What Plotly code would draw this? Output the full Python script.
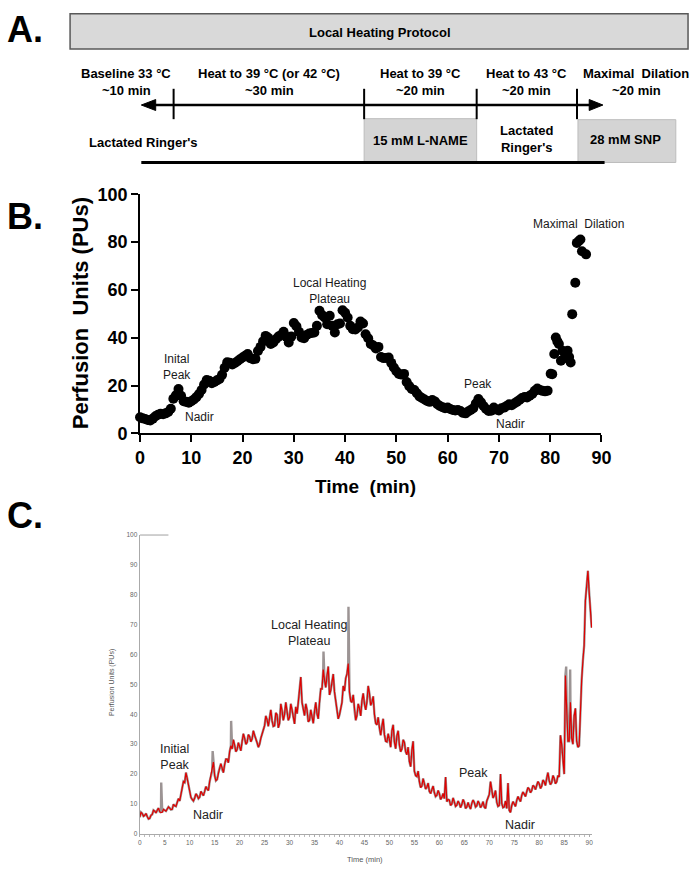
import plotly.graph_objects as go

W, H = 700, 875
FONT = "Liberation Sans, Arial, sans-serif"
# measured vertical mapping of the photographed page (picture_y = VS * page_y + VO)
VS, VO = 0.981, 7.9

# ---------------- Panel A: protocol texts ----------------
protocol_title = "Local Heating Protocol"
stage_names = ["Baseline 33 °C", "Heat to 39 °C (or 42 °C)", "Heat to 39 °C",
               "Heat to 43 °C", "Maximal\u00a0\u00a0Dilation"]
stage_durations = ["~10 min", "~30 min", "~20 min", "~20 min", "~20 min"]
solution_labels = ["Lactated Ringer's", "15 mM L-NAME", "Lactated<br>Ringer's", "28 mM SNP"]
panel_letters = ["A.", "B.", "C."]

# ---------------- Panel B: averaged perfusion (dots) ----------------
b_step = 0.5
b_pu_regular = [
    6.8, 6.3, 6.0, 5.6, 5.4, 6.2, 7.2, 7.8, 8.2, 8.0,
    8.4, 9.0, 10.3, 14.5, 16.0, 18.6, 15.8, 13.5, 13.2, 12.8,
    13.5, 14.2, 15.2, 16.5, 18.2, 20.5, 22.3, 22.0, 21.0, 21.5,
    22.2, 22.8, 24.5, 27.5, 29.8, 29.6, 28.8, 29.5, 30.2, 31.0,
    31.8, 32.5, 33.2, 31.5, 31.0, 31.2, 34.5, 36.2, 38.5, 40.8,
    40.0, 37.4, 38.0, 39.4, 40.5, 41.2, 42.5, 40.5, 38.0, 40.5,
    46.2, 44.8, 42.5, 40.1, 39.8, 41.2, 41.8, 42.0, 42.2, 45.0,
    51.3, 49.5, 48.5, 45.7, 49.2, 45.0, 42.2, 45.7, 46.0, 51.5,
    50.5, 48.5, 45.0, 43.6, 43.5, 44.3, 46.8, 46.0, 41.5, 39.8,
    37.4, 36.8, 35.5, 36.2, 32.0, 31.5, 31.6, 31.8, 29.5, 27.6,
    26.0, 24.9, 24.6, 24.9, 21.5, 19.8, 18.6, 18.2, 16.8, 15.5,
    14.8, 14.2, 13.6, 13.2, 14.0, 13.4, 12.2, 11.5, 11.0, 10.5,
    10.8, 10.2, 9.8, 9.6, 9.8, 9.4, 8.6, 8.4, 9.2, 9.8,
    10.5, 12.5, 14.4, 13.0, 11.5, 10.2, 9.4, 9.5, 10.8, 10.0,
    9.6, 10.5, 10.8, 11.5, 12.2, 11.8, 12.5, 13.2, 14.0, 14.8,
    15.2, 15.0, 15.8, 16.5, 17.8, 18.8, 18.2, 17.8, 17.6, 17.9,
]
b_time_tail = [80.1, 80.4, 80.8, 81.1, 81.4, 81.7, 82.1, 82.4, 82.8, 83.4,
               83.7, 84.0, 84.3, 84.9, 85.2, 85.6, 85.9, 86.2, 87.0]
b_pu_tail = [25.0, 24.8, 33.2, 40.1, 38.5, 37.4, 30.4, 34.6, 31.5, 34.6,
             32.0, 29.7, 49.9, 63.0, 79.7, 80.5, 81.1, 76.2, 74.9]
b_time = [i * b_step for i in range(len(b_pu_regular))] + b_time_tail
b_pu = b_pu_regular + b_pu_tail
b_xticks = [0, 10, 20, 30, 40, 50, 60, 70, 80, 90]
b_yticks = [0, 20, 40, 60, 80, 100]
b_notes = ["Inital<br>Peak", "Nadir", "Local Heating<br>Plateau", "Peak", "Nadir",
           "Maximal\u00a0\u00a0Dilation"]
b_note_x = [7.25, 11.6, 37.05, 65.85, 72.2, 85.6]
b_note_y = [27.6, 6.8, 59.6, 20.7, 3.75, 87.6]

# ---------------- Panel C: raw laser-Doppler trace ----------------
c_step = 0.5
c_red = [
    5.6, 6.8, 6.2, 5.8, 5.2, 6.5, 7.6, 7.9, 7.4, 7.2,
    7.9, 8.3, 8.6, 8.2, 9.4, 10.5, 11.0, 15.5, 17.2, 18.6,
    14.2, 11.5, 12.0, 12.8, 12.3, 13.5, 14.2, 15.0, 17.5, 21.0,
    19.5, 18.2, 22.0, 21.5, 23.2, 25.0, 27.5, 28.4, 29.8, 28.2,
    29.2, 30.9, 32.0, 30.6, 32.6, 31.8, 33.0, 30.5, 30.0, 33.2,
    36.2, 38.2, 39.6, 37.8, 36.2, 39.9, 37.0, 41.2, 40.0, 41.0,
    39.0, 41.5, 36.8, 40.2, 48.5, 44.0, 39.6, 41.5, 38.0, 39.6,
    41.0, 40.2, 44.0, 48.5, 51.5, 53.0, 46.5, 50.8, 47.5, 42.2,
    39.8, 44.0, 47.8, 53.5, 47.5, 44.0, 41.5, 39.6, 42.0, 44.5,
    43.5, 44.2, 47.0, 44.0, 40.0, 36.5, 35.5, 36.0, 33.2, 30.8,
    31.5, 34.5, 30.8, 32.8, 29.8, 28.4, 30.6, 26.5, 24.2, 28.0,
    21.0, 19.2, 17.5, 16.0, 16.8, 15.6, 14.2, 14.8, 13.8, 12.9,
    13.5, 12.2, 11.8, 10.8, 11.3, 10.0, 10.7, 9.6, 10.2, 9.8,
    10.6, 9.0, 9.2, 10.2, 10.5, 9.4, 10.2, 9.5, 9.0, 11.0,
    13.2, 14.2, 12.8, 10.6, 9.5, 10.2, 9.0, 8.5, 7.9, 9.5,
    10.0, 11.2, 11.6, 12.9, 13.3, 14.1, 15.0, 14.5, 15.8, 16.2,
    16.8, 16.0, 17.4, 18.6, 17.8, 17.2, 18.6, 17.4, 19.0, 30.0,
    20.0, 44.0, 31.0, 32.0, 39.5, 31.0, 29.5, 51.5, 63.0, 83.0,
    81.0, 69.0,
]
c_raw = [
    7.2, 5.9, 6.8, 5.0, 6.2, 7.9, 7.0, 8.6, 7.1, 8.2,
    7.6, 9.0, 8.1, 9.9, 9.2, 11.8, 13.5, 17.5, 20.5, 16.0,
    12.2, 11.0, 13.4, 11.8, 14.2, 12.8, 15.8, 14.5, 19.5, 24.0,
    17.8, 20.5, 23.5, 20.5, 25.0, 23.8, 29.5, 31.5, 27.5, 30.5,
    27.8, 33.5, 30.0, 33.2, 30.8, 34.5, 31.2, 29.0, 32.0, 35.0,
    39.5, 36.0, 41.5, 36.0, 40.5, 35.5, 43.5, 38.0, 44.0, 38.0,
    43.5, 38.5, 42.5, 44.0, 52.5, 41.0, 43.5, 37.5, 41.5, 37.0,
    44.0, 38.5, 48.5, 55.0, 49.0, 56.0, 48.0, 53.5, 44.0, 38.5,
    42.5, 49.5, 52.0, 57.0, 44.5, 46.5, 38.0, 43.5, 39.5, 47.0,
    41.5, 49.5, 43.0, 46.0, 37.0, 39.0, 33.0, 38.5, 31.0, 33.5,
    29.0, 36.5, 28.5, 34.5, 27.5, 31.5, 27.5, 29.0, 22.5, 31.0,
    19.5, 21.0, 15.5, 18.5, 15.0, 17.0, 13.5, 16.0, 12.5, 14.5,
    11.5, 13.5, 19.0, 11.5, 9.5, 12.0, 9.2, 11.0, 8.8, 11.5,
    8.5, 10.5, 8.3, 11.3, 9.0, 11.0, 8.8, 10.8, 8.5, 12.5,
    17.5, 12.0, 14.5, 9.2, 20.0, 8.8, 11.0, 17.0, 7.2, 10.8,
    9.2, 12.5, 10.8, 14.0, 12.5, 15.5, 13.8, 16.2, 14.8, 17.5,
    15.2, 18.0, 16.2, 20.5, 16.5, 19.5, 16.8, 19.5, 33.0, 25.0,
    53.0, 31.0, 44.0, 30.0, 42.0, 29.0, 42.0, 58.0, 78.0, 88.0,
    75.0,
]
c_spike_time = [4.3, 14.6, 18.3, 36.8, 41.8, 85.4, 86.2]
c_spike_pu = [17.2, 27.7, 37.8, 61.0, 76.0, 56.0, 55.0]
c_xticks = [0, 5, 10, 15, 20, 25, 30, 35, 40, 45, 50, 55, 60, 65, 70, 75, 80, 85, 90]
c_yticks = [0, 10, 20, 30, 40, 50, 60, 70, 80, 90, 100]
c_notes = ["Initial<br>Peak", "Nadir", "Local Heating<br>Plateau", "Peak", "Nadir",
           "Maximal\u00a0\u00a0Dilation"]
c_note_x = [6.98, 13.65, 33.8, 66.9, 76.1, 91.9]
c_note_y = [25.7, 6.3, 67.2, 20.3, 3.0, 90.6]

c_time = [i * c_step for i in range(len(c_red))]
c_raw_time = [c_step / 2 + i * c_step for i in range(len(c_raw))]


def merged(times, values):
    order = sorted(range(len(times)), key=lambda i: times[i])
    return [times[i] for i in order], [values[i] for i in order]


red_t, red_v = merged(c_time + c_raw_time, c_red + c_raw)
gray_t, gray_v = merged(c_time + c_raw_time + c_spike_time, c_red + c_raw + c_spike_pu)


def px(x):
    return x / W


def py(y):
    return 1 - ((y - VO) / VS) / H


fig = go.Figure()
fig.add_trace(go.Scatter(x=b_time, y=b_pu, mode="markers", xaxis="x", yaxis="y",
                         marker=dict(color="black", size=10, line=dict(width=0)),
                         cliponaxis=False, hoverinfo="skip"))
fig.add_trace(go.Scatter(x=gray_t, y=gray_v, mode="lines", xaxis="x2", yaxis="y2",
                         line=dict(color="#9c9494", width=2.4), hoverinfo="skip"))
fig.add_trace(go.Scatter(x=red_t, y=red_v, mode="lines", xaxis="x2", yaxis="y2",
                         line=dict(color="#e00000", width=1.2), hoverinfo="skip"))

shapes = []
annotations = []


def pline(x0, y0, x1, y1, color, width):
    shapes.append(dict(type="line", xref="paper", yref="paper", x0=px(x0), x1=px(x1),
                       y0=py(y0), y1=py(y1), line=dict(color=color, width=width)))


def prect(x0, y0, x1, y1, fill, color, width):
    shapes.append(dict(type="rect", xref="paper", yref="paper", x0=px(x0), x1=px(x1),
                       y0=py(y1), y1=py(y0), fillcolor=fill, line=dict(color=color, width=width)))


# Panel A drawing
prect(66.5, 11.7, 698, 47, "#d9d9d9", "#595959", 1.5)
prect(367, 117, 482, 160, "#d4d4d4", "#bdbdbd", 1)
prect(585.5, 118, 685.5, 161, "#d4d4d4", "#bdbdbd", 1)
pline(150, 103.3, 602, 103.3, "black", 2.5)
shapes.append(dict(type="path", xref="paper", yref="paper",
                   path=f"M {px(139.3)},{py(103.3)} L {px(154)},{py(97.8)} L {px(154)},{py(108.8)} Z",
                   fillcolor="black", line=dict(color="black", width=1)))
shapes.append(dict(type="path", xref="paper", yref="paper",
                   path=f"M {px(611)},{py(103.3)} L {px(597)},{py(97.8)} L {px(597)},{py(108.8)} Z",
                   fillcolor="black", line=dict(color="black", width=1)))
for tx in [172.3, 367, 482, 584.5]:
    pline(tx, 117.5, tx, 87, "black", 2)
pline(139.3, 161, 612.7, 161, "black", 3)
# Panel C top stub line
pline(138, 535, 167, 535, "#b0b0b0", 1.2)

boldA = dict(family=FONT, size=13, color="black", weight="bold")


def ptext(x, y, text, font, angle=0, xanchor="center"):
    annotations.append(dict(xref="paper", yref="paper", x=px(x), y=py(y), text=text,
                            showarrow=False, font=font, xanchor=xanchor, yanchor="middle",
                            textangle=angle))


ptext(383, 30, protocol_title, boldA)
stage_cx = [124, 270, 425, 533, 645]
for name, dur, cx in zip(stage_names, stage_durations, stage_cx):
    ptext(cx, 71.7, name, boldA)
    ptext(cx, 88.3, dur, boldA)
sol_cx = [141.3, 425, 533, 634]
sol_cy = [140.7, 138.5, 137.5, 138.3]
for lab, cx, cy in zip(solution_labels, sol_cx, sol_cy):
    ptext(cx, cy, lab, boldA)

for letter, ly in zip(panel_letters, [27.5, 215, 515]):
    ptext(0, ly, letter, dict(family=FONT, size=36, color="black", weight="bold"), xanchor="left")

# Panel B annotations
for t, xx, yy in zip(b_notes, b_note_x, b_note_y):
    annotations.append(dict(xref="x", yref="y", x=xx, y=yy, text=t, showarrow=False,
                            xanchor="center", yanchor="middle",
                            font=dict(family=FONT, size=12, color="#1a1a1a")))
ptext(368, 486, "Time\u00a0\u00a0(min)", dict(family=FONT, size=19, color="black", weight="bold"))
ptext(78, 312, "Perfusion\u00a0\u00a0Units (PUs)", dict(family=FONT, size=22, color="black", weight="bold"),
      angle=-90)

# Panel C annotations
for t, xx, yy in zip(c_notes, c_note_x, c_note_y):
    annotations.append(dict(xref="x2", yref="y2", x=xx, y=yy, text=t, showarrow=False,
                            xanchor="center", yanchor="middle",
                            font=dict(family=FONT, size=12.5, color="#222222")))
ptext(368, 861, "Time (min)", dict(family=FONT, size=7.5, color="#555555"))
ptext(110, 683, "Perfusion Units (PUs)", dict(family=FONT, size=7, color="#555555"), angle=-90)

fig.update_layout(
    width=W, height=H, margin=dict(l=0, r=0, t=0, b=0),
    paper_bgcolor="white", plot_bgcolor="rgba(0,0,0,0)", showlegend=False,
    font=dict(family=FONT),
    shapes=shapes, annotations=annotations,
    xaxis=dict(domain=[px(138), px(609.5)], range=[0, 90], tickvals=b_xticks, anchor="y",
               showline=True, linecolor="black", linewidth=2, ticks="outside", ticklen=7,
               tickwidth=2, tickcolor="black", showgrid=False, zeroline=False,
               tickfont=dict(family=FONT, size=18, color="black", weight="bold")),
    yaxis=dict(domain=[py(433), py(193)], range=[0, 100], tickvals=b_yticks, anchor="x",
               showline=True, linecolor="black", linewidth=2, ticks="outside", ticklen=7,
               tickwidth=2, tickcolor="black", showgrid=False, zeroline=False,
               tickfont=dict(family=FONT, size=18, color="black", weight="bold")),
    xaxis2=dict(domain=[px(137.7), px(600)], range=[0, 90.6], tickvals=c_xticks, anchor="y2",
                showline=True, linecolor="#aaaaaa", linewidth=1.2, ticks="outside", ticklen=2,
                tickcolor="#aaaaaa", showgrid=False, zeroline=False,
                minor=dict(dtick=1, ticks="outside", ticklen=2, tickcolor="#bbbbbb"),
                tickfont=dict(family=FONT, size=6.5, color="#666666")),
    yaxis2=dict(domain=[py(835), py(535)], range=[0, 100], tickvals=c_yticks, anchor="x2",
                showline=True, linecolor="#aaaaaa", linewidth=1.2, ticks="", showgrid=False,
                zeroline=False, tickfont=dict(family=FONT, size=6.5, color="#666666")),
)

fig.write_html("out.html", config={"displayModeBar": False, "responsive": False},
               post_script="var d=document.documentElement,b=document.body;"
                           "d.style.margin='0';d.style.padding='0';d.style.overflow='hidden';"
                           "b.style.margin='0';b.style.padding='0';b.style.overflow='hidden';"
                           "window.scrollTo(0,0);")
